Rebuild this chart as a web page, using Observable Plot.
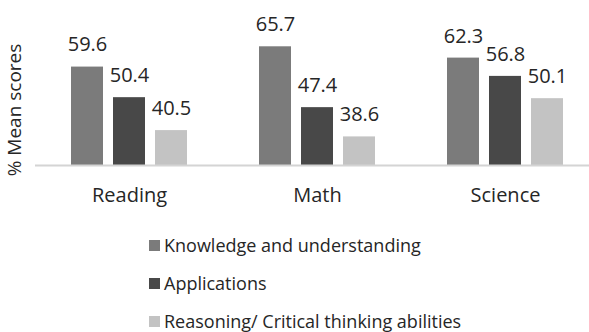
<!DOCTYPE html>
<html>
<head>
<meta charset="utf-8">
<script src="https://cdn.jsdelivr.net/npm/d3@7"></script>
<script src="https://cdn.jsdelivr.net/npm/@observablehq/plot@0.6"></script>
<style>
  body { margin: 0; background: #fff; font-family: "Open Sans", sans-serif; color: #262626; }
  #chart svg { display: block; }
  .legend { margin-top: 11px; padding-left: 149px; }
  .legend .row { height: 38px; line-height: 38px; font-size: 18px; display: flex; align-items: center; white-space: nowrap; }
  .legend .sw { width: 11px; height: 11px; margin-right: 4px; flex: none; }
</style>
</head>
<body>
<div id="chart"></div>
<div class="legend" id="legend"></div>
<script>
// Mean scores by subject and cognitive domain
const subjects = ["Reading", "Math", "Science"];
const domains = ["Knowledge and understanding", "Applications", "Reasoning/ Critical thinking abilities"];
const knowledge = [59.6, 65.7, 62.3];
const applications = [50.4, 47.4, 56.8];
const reasoning = [40.5, 38.6, 50.1];
const colors = ["#7b7b7b", "#484848", "#c3c3c3"];
const yTitle = "% Mean scores";
const yStart = 30;
const yEnd = 70;

const series = [knowledge, applications, reasoning];
const rows = [];
subjects.forEach((subject, i) => {
  domains.forEach((domain, j) => {
    rows.push({subject, domain, value: series[j][i]});
  });
});

const chart = Plot.plot({
  width: 589,
  height: 215,
  marginLeft: 35,
  marginRight: -10,
  marginTop: 32,
  marginBottom: 50,
  style: {fontFamily: "Open Sans, sans-serif", fontSize: "20px", color: "#262626", background: "#fff"},
  fx: {domain: subjects, padding: 0, tickSize: 0, tickPadding: 22, label: null, axis: "bottom"},
  x: {domain: domains, paddingInner: 0.238, paddingOuter: 0.857, axis: null},
  y: {domain: [yStart, yEnd], axis: null},
  color: {domain: domains, range: colors},
  marks: [
    Plot.barY(rows, {fx: "subject", x: "domain", y1: yStart, y2: "value", fill: "domain"}),
    Plot.ruleY([yStart], {stroke: "#d4d4d4", strokeWidth: 2}),
    Plot.text(rows, {fx: "subject", x: "domain", y: "value", text: d => d.value.toFixed(1), dy: -22, fill: "#262626", fontSize: 20}),
    // vertical axis title, placed once in the left margin of the first panel
    Plot.text([yTitle], {fx: () => subjects[0], text: d => d, frameAnchor: "left", textAnchor: "middle", rotate: -90, dx: -21, dy: 11, fill: "#262626", fontSize: 19})
  ]
});
document.getElementById("chart").appendChild(chart);

const legend = document.getElementById("legend");
domains.forEach((d, i) => {
  const row = document.createElement("div");
  row.className = "row";
  const sw = document.createElement("span");
  sw.className = "sw";
  sw.style.background = colors[i];
  const label = document.createElement("span");
  label.textContent = d;
  row.appendChild(sw);
  row.appendChild(label);
  legend.appendChild(row);
});
</script>
</body>
</html>
